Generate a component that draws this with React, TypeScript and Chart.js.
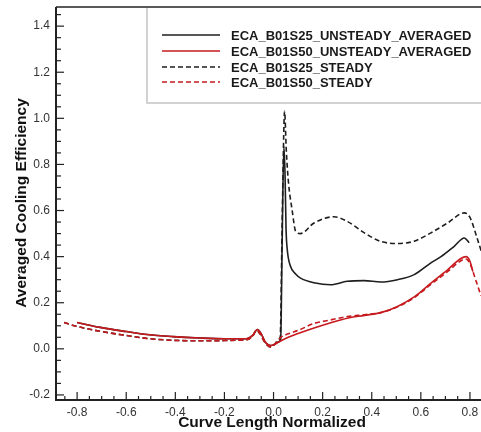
import React, { useEffect, useRef } from "react";
import { Chart, registerables } from "chart.js";

Chart.register(...registerables);

// Major tick values on each axis
const xTickValues = [-0.8, -0.6, -0.4, -0.2, 0, 0.2, 0.4, 0.6, 0.8];
const yTickValues = [-0.2, 0, 0.2, 0.4, 0.6, 0.8, 1.0, 1.2, 1.4];

const seriesLabels = [
  "ECA_B01S25_UNSTEADY_AVERAGED",
  "ECA_B01S50_UNSTEADY_AVERAGED",
  "ECA_B01S25_STEADY",
  "ECA_B01S50_STEADY",
];

// ECA_B01S25_UNSTEADY_AVERAGED
const s25UnsteadyX = [
  -0.8, -0.706, -0.6, -0.515, -0.41, -0.3, -0.2, -0.11, -0.085, -0.066, -0.05,
  -0.035, -0.012, 0.005, 0.02, 0.029, 0.035, 0.042, 0.047, 0.051, 0.056, 0.069,
  0.09, 0.11, 0.165, 0.233, 0.3, 0.369, 0.437, 0.505, 0.573, 0.641, 0.682,
  0.736, 0.777, 0.797,
];
const s25UnsteadyY = [
  0.114, 0.093, 0.075, 0.062, 0.053, 0.047, 0.044, 0.044, 0.058, 0.084, 0.065,
  0.032, 0.014, 0.02, 0.03, 0.04, 0.45, 0.88, 0.75, 0.52, 0.43, 0.358, 0.325,
  0.307, 0.287, 0.278, 0.293, 0.296, 0.29, 0.3, 0.322, 0.373, 0.4, 0.445,
  0.481, 0.46,
];

// ECA_B01S50_UNSTEADY_AVERAGED
const s50UnsteadyX = [
  -0.8, -0.706, -0.6, -0.515, -0.41, -0.3, -0.2, -0.11, -0.085, -0.066, -0.05,
  -0.035, -0.012, 0.005, 0.029, 0.06, 0.1, 0.165, 0.23, 0.3, 0.37, 0.437,
  0.505, 0.573, 0.641, 0.709, 0.763, 0.784, 0.8, 0.812,
];
const s50UnsteadyY = [
  0.114, 0.093, 0.075, 0.062, 0.053, 0.047, 0.044, 0.044, 0.058, 0.084, 0.065,
  0.032, 0.014, 0.02, 0.034, 0.05, 0.066, 0.09, 0.112, 0.133, 0.145, 0.157,
  0.184, 0.225, 0.285, 0.343, 0.392, 0.4, 0.38, 0.335,
];

// ECA_B01S25_STEADY
const s25SteadyX = [
  -0.853, -0.804, -0.706, -0.6, -0.515, -0.41, -0.3, -0.2, -0.124, -0.1,
  -0.085, -0.07, -0.055, -0.035, -0.012, 0.005, 0.02, 0.027, 0.036, 0.045,
  0.052, 0.061, 0.076, 0.09, 0.11, 0.165, 0.246, 0.3, 0.37, 0.437, 0.505,
  0.573, 0.641, 0.709, 0.777, 0.8, 0.831, 0.85,
];
const s25SteadyY = [
  0.114, 0.098, 0.076, 0.058, 0.045, 0.037, 0.035, 0.036, 0.039, 0.043, 0.055,
  0.08, 0.065, 0.028, 0.008, 0.02, 0.04, 0.05, 0.6, 1.03, 0.86, 0.72, 0.6,
  0.51, 0.5, 0.546, 0.573, 0.553, 0.503, 0.466, 0.457, 0.467, 0.503, 0.546,
  0.59, 0.57, 0.474, 0.41,
];

// ECA_B01S50_STEADY
const s50SteadyX = [
  -0.853, -0.804, -0.706, -0.6, -0.515, -0.41, -0.3, -0.2, -0.124, -0.1,
  -0.085, -0.07, -0.055, -0.035, -0.012, 0.005, 0.03, 0.06, 0.1, 0.165, 0.23,
  0.3, 0.37, 0.437, 0.505, 0.573, 0.641, 0.709, 0.763, 0.784, 0.8, 0.82,
  0.845,
];
const s50SteadyY = [
  0.114, 0.098, 0.076, 0.058, 0.045, 0.037, 0.035, 0.036, 0.039, 0.043, 0.055,
  0.08, 0.065, 0.028, 0.008, 0.02, 0.05, 0.065, 0.08, 0.11, 0.125, 0.14, 0.148,
  0.157, 0.182, 0.222, 0.28, 0.335, 0.382, 0.39, 0.37, 0.31, 0.23,
];

const BLACK = "#1e1e1e";
const RED = "#c61a1e";
const DASH = [5, 3];
const FONT = "'Liberation Sans', Arial, Helvetica, sans-serif";

const toPoints = (xs: number[], ys: number[]) =>
  xs.map((x, i) => ({ x, y: ys[i] }));

// Frame, inward ticks, axis titles and the boxed legend
const framePlugin = {
  id: "frame",
  afterDatasetsDraw(chart: any) {
    const { ctx, chartArea } = chart;
    const xs = chart.scales.x;
    const ys = chart.scales.y;
    const { left, right, top, bottom } = chartArea;
    ctx.save();

    // axes and top border
    ctx.strokeStyle = "#222";
    ctx.lineWidth = 2;
    ctx.beginPath();
    ctx.moveTo(left, top);
    ctx.lineTo(left, bottom);
    ctx.lineTo(right, bottom);
    ctx.stroke();
    ctx.lineWidth = 1.5;
    ctx.beginPath();
    ctx.moveTo(left, top);
    ctx.lineTo(right, top);
    ctx.stroke();

    // ticks on the x axis (major every 0.2, minor every 0.05)
    ctx.lineWidth = 1.2;
    for (let i = -17; i <= 17; i++) {
      const v = i * 0.05;
      const px = xs.getPixelForValue(v);
      if (px < left || px > right) continue;
      const len = i % 4 === 0 ? 8 : 4;
      ctx.beginPath();
      ctx.moveTo(px, bottom);
      ctx.lineTo(px, bottom - len);
      ctx.stroke();
    }
    // ticks on the y axis
    for (let i = -4; i <= 29; i++) {
      const v = i * 0.05;
      const py = ys.getPixelForValue(v);
      if (py < top || py > bottom) continue;
      const len = i % 4 === 0 ? 8 : 5;
      ctx.beginPath();
      ctx.moveTo(left, py);
      ctx.lineTo(left + len, py);
      ctx.stroke();
    }

    // axis titles
    ctx.fillStyle = "#111";
    ctx.font = `bold 15.5px ${FONT}`;
    ctx.textAlign = "center";
    ctx.textBaseline = "middle";
    ctx.fillText("Curve Length Normalized", 272, 423);
    ctx.save();
    ctx.translate(22, 203);
    ctx.rotate(-Math.PI / 2);
    ctx.fillText("Averaged Cooling Efficiency", 0, 0);
    ctx.restore();

    // legend box
    const boxLeft = 147;
    const boxBottom = 103;
    ctx.fillStyle = "#ffffff";
    ctx.fillRect(boxLeft, top + 1, right - boxLeft, boxBottom - top - 1);
    ctx.strokeStyle = "#c4c4c4";
    ctx.lineWidth = 1.5;
    ctx.beginPath();
    ctx.moveTo(boxLeft, top + 1);
    ctx.lineTo(boxLeft, boxBottom);
    ctx.lineTo(right, boxBottom);
    ctx.stroke();

    const rows = [35, 51, 67, 82];
    const colors = [BLACK, RED, BLACK, RED];
    ctx.font = `bold 13px ${FONT}`;
    ctx.textAlign = "left";
    ctx.textBaseline = "middle";
    rows.forEach((ry, i) => {
      ctx.strokeStyle = colors[i];
      ctx.lineWidth = 1.6;
      ctx.setLineDash(i >= 2 ? DASH : []);
      ctx.beginPath();
      ctx.moveTo(162, ry);
      ctx.lineTo(220, ry);
      ctx.stroke();
      ctx.setLineDash([]);
      ctx.fillStyle = "#1a1a1a";
      ctx.fillText(seriesLabels[i], 231, ry + 1);
    });

    ctx.restore();
  },
};

const noScalePadding = (scale: any) => {
  scale.paddingTop = 0;
  scale.paddingBottom = 0;
  scale.paddingLeft = 0;
  scale.paddingRight = 0;
};

export default function App() {
  const canvasRef = useRef<HTMLCanvasElement | null>(null);

  useEffect(() => {
    document.body.style.margin = "0";
    document.body.style.background = "#ffffff";
    const canvas = canvasRef.current;
    if (!canvas) return;

    const lineStyle = {
      pointRadius: 0,
      borderWidth: 1.6,
      cubicInterpolationMode: "monotone" as const,
      fill: false,
    };

    const chart = new Chart(canvas, {
      type: "line",
      data: {
        datasets: [
          {
            label: seriesLabels[1],
            data: toPoints(s50UnsteadyX, s50UnsteadyY),
            borderColor: RED,
            ...lineStyle,
          },
          {
            label: seriesLabels[3],
            data: toPoints(s50SteadyX, s50SteadyY),
            borderColor: RED,
            borderDash: DASH,
            ...lineStyle,
          },
          {
            label: seriesLabels[2],
            data: toPoints(s25SteadyX, s25SteadyY),
            borderColor: BLACK,
            borderDash: DASH,
            ...lineStyle,
          },
          {
            label: seriesLabels[0],
            data: toPoints(s25UnsteadyX, s25UnsteadyY),
            borderColor: BLACK,
            ...lineStyle,
          },
        ],
      },
      options: {
        responsive: false,
        animation: false,
        layout: { padding: { top: 7, left: 0, right: 0, bottom: 0 } },
        plugins: {
          legend: { display: false },
          tooltip: { enabled: false },
        },
        scales: {
          x: {
            type: "linear",
            min: -0.886,
            max: 0.845,
            grid: { display: false, drawTicks: false },
            border: { display: false },
            afterBuildTicks: (scale: any) => {
              scale.ticks = xTickValues.map((value) => ({ value }));
            },
            afterFit: (scale: any) => {
              scale.height = 32;
              noScalePadding(scale);
            },
            ticks: {
              padding: 5,
              maxRotation: 0,
              autoSkip: false,
              color: "#333",
              font: { family: FONT, size: 12 },
              callback: (v: any) => Number(v).toFixed(1),
            },
          },
          y: {
            type: "linear",
            min: -0.222,
            max: 1.483,
            grid: { display: false, drawTicks: false },
            border: { display: false },
            afterBuildTicks: (scale: any) => {
              scale.ticks = yTickValues.map((value) => ({ value }));
            },
            afterFit: (scale: any) => {
              scale.width = 56;
              noScalePadding(scale);
            },
            ticks: {
              padding: 6,
              autoSkip: false,
              color: "#333",
              font: { family: FONT, size: 12 },
              callback: (v: any) => Number(v).toFixed(1),
            },
          },
        },
      },
      plugins: [framePlugin],
    });

    return () => chart.destroy();
  }, []);

  return (
    <div style={{ position: "absolute", left: 0, top: 0, width: 481, height: 432 }}>
      <canvas ref={canvasRef} width={481} height={432} />
    </div>
  );
}
